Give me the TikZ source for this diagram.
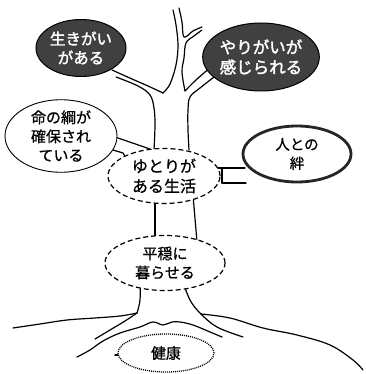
\documentclass[tikz,border=0pt]{standalone}
\usepackage{fontspec}
\newfontfamily\jpfont[FakeBold=0.8]{Noto Sans CJK JP}
\newfontfamily\jpheavy[FakeBold=2]{Noto Sans CJK JP}
\usetikzlibrary{shapes.geometric}
\begin{document}
\begin{tikzpicture}[x=1pt,y=-1pt,
  limb/.style={line width=1.2pt, line cap=round, line join=round},
  bubble/.style={ellipse, inner sep=0pt, align=center, fill=white,
    font=\jpfont\fontsize{15}{19}\selectfont},
  darkbubble/.style={bubble, fill=black!75, draw=black, line width=1pt,
    text=white, font=\jpheavy\fontsize{15.5}{19}\selectfont},
  plainbubble/.style={bubble, draw=black, line width=0.9pt},
  dashbubble/.style={bubble, draw=black, line width=1.2pt, dash pattern=on 5pt off 3pt},
  dotbubble/.style={bubble, draw=black, line width=1.3pt, dash pattern=on 1pt off 1pt},
  heavybubble/.style={bubble, draw=black!85, line width=2.8pt}
]
\useasboundingbox (0,0) rectangle (365,374);

% crown: stem, twig and the two upper branches
\draw[limb] plot[smooth, tension=0.6] coordinates {(173,10) (176,25) (178,45) (176,65) (170,84) (163,93)};
\draw[limb] plot[smooth, tension=0.6] coordinates {(112,70) (132,79) (148,86) (163,93)};
\draw[limb] plot[smooth, tension=0.6] coordinates {(116,77) (138,86) (150,95) (154,108) (155,125) (154,150)};
\draw[limb] plot[smooth, tension=0.6] coordinates {(179,8) (182,22) (184,37) (193,31) (202,27)};
\draw[limb] plot[smooth, tension=0.6] coordinates {(202,30) (194,36) (186,43) (184,58) (182,72) (185,91)};
\draw[limb] plot[smooth, tension=0.6] coordinates {(212,66) (196,80) (185,91)};
\draw[limb] plot[smooth, tension=0.6] coordinates {(218,74) (200,88) (190,97) (188,110) (188,130) (189,150)};

% trunk between the two middle ellipses
\draw[limb] (155,195) -- (155,240);
\draw[limb] (153,237) -- (159,237);
\draw[limb] (193,195) -- (197,242);

% lower trunk and roots
\draw[limb] plot[smooth, tension=0.6] coordinates {(140,280) (140,300) (137,313)};
\draw[limb] plot[smooth, tension=0.6] coordinates {(13,328) (40,324) (67,320) (95,318) (120,316) (137,313)};
\draw[limb] plot[smooth, tension=0.6] coordinates {(137,313) (125,321) (110,330) (95,339)};
\draw[limb] plot[smooth, tension=0.6] coordinates {(77,357) (90,350) (103,341) (120,333) (140,327) (153,322) (163,325) (172,322) (180,322) (193,325) (210,332) (222,337)};
\draw[limb] plot[smooth, tension=0.6] coordinates {(183,282) (190,300) (200,313) (217,327) (243,337)};
\draw[limb] plot[smooth, tension=0.6] coordinates {(201,314) (230,318) (263,328) (297,335) (330,345) (353,360) (363,370)};
\draw[limb] (115,355) -- (122,355);

% ropes to the side ellipses
\draw[limb] (115,137) -- (150,149);
\draw[limb] (113,150) -- (123,153) -- (126,158);
\draw[limb] (218,168) -- (245,168);
\draw[limb] (222,168) -- (222,183);
\draw[limb] (222,183) -- (246,183);

% ellipses
\node[darkbubble, minimum width=90pt, minimum height=57pt] (ikigai) at (81,48) {生きがい\\がある};
\node[darkbubble, minimum width=116pt, minimum height=68pt,
  font=\jpheavy\fontsize{16.5}{20}\selectfont] (yarigai) at (261,57) {やりがいが\\感じられる};
\node[plainbubble, minimum width=112pt, minimum height=58pt] (inochi) at (61,136) {命の綱が\\確保され\\ている};
\node[dashbubble, minimum width=112pt, minimum height=55pt,
  font=\jpfont\fontsize{16}{20}\selectfont] (yutori) at (164,176) {ゆとりが\\ある生活};
\node[heavybubble, minimum width=108pt, minimum height=56pt,
  font=\jpfont\fontsize{14.5}{19}\selectfont] (kizuna) at (297,154) {人との\\絆};
\node[dashbubble, minimum width=120pt, minimum height=55pt] (heion) at (165,263) {平穏に\\暮らせる};
\node[dotbubble, minimum width=96pt, minimum height=38pt] (kenko) at (166,353) {健康};
\end{tikzpicture}
\end{document}
